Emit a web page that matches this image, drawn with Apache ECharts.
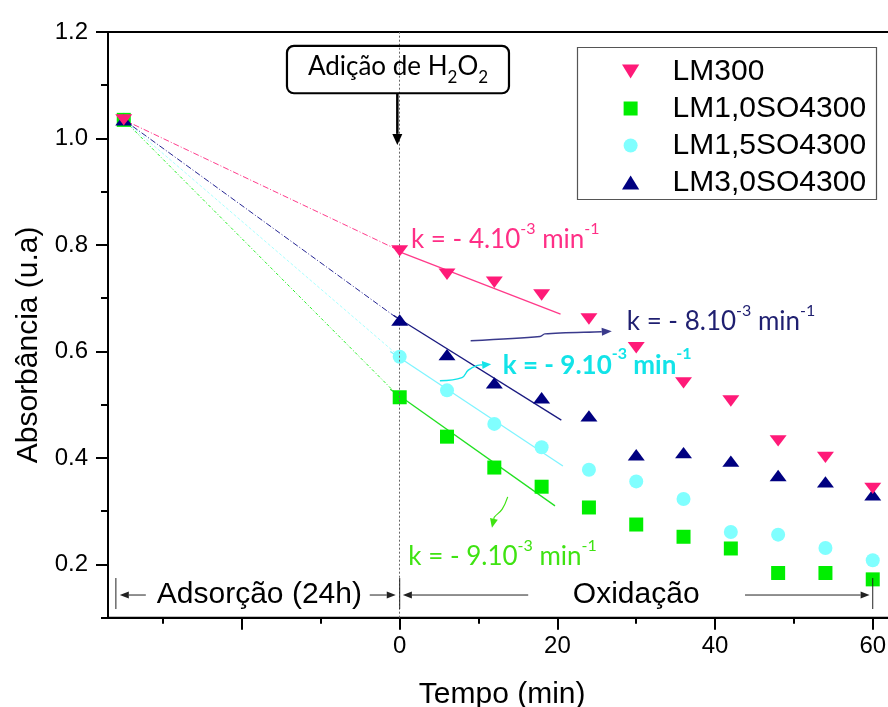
<!DOCTYPE html>
<html>
<head>
<meta charset="utf-8">
<script src="https://cdn.jsdelivr.net/npm/echarts@6/dist/echarts.min.js"></script>
<style>
  html, body { margin: 0; padding: 0; background: #fff; }
  #chart { width: 888px; height: 707px; }
</style>
</head>
<body>
<div id="chart"></div>
<script>
// Sampling times after H2O2 addition (min)
const times = [0, 6, 12, 18, 24, 30, 36, 42, 48, 54, 60];
// Initial absorbance, before the 24 h adsorption stage (placed at t = -35 on the compressed axis)
const startTime = -35;
const startAbs = 1.035;

// Absorbance (u.a) per catalyst
const seriesNames = ['LM300', 'LM1,0SO4300', 'LM1,5SO4300', 'LM3,0SO4300'];
const absLM300 = [0.789, 0.745, 0.730, 0.706, 0.661, 0.607, 0.541, 0.507, 0.432, 0.401, 0.343];
const absLM10 = [0.514, 0.440, 0.382, 0.346, 0.307, 0.275, 0.252, 0.230, 0.184, 0.184, 0.172];
const absLM15 = [0.590, 0.527, 0.464, 0.420, 0.378, 0.356, 0.323, 0.261, 0.256, 0.231, 0.208];
const absLM30 = [0.659, 0.594, 0.541, 0.513, 0.479, 0.406, 0.410, 0.394, 0.367, 0.355, 0.331];

// Linear fits of the first 20 min: [t, A] end points
const fitLM300 = [[-0.5, 0.790], [20.4, 0.670]];
const fitLM10 = [[-1.2, 0.529], [19.7, 0.310]];
const fitLM15 = [[-1.2, 0.600], [20.7, 0.385]];
const fitLM30 = [[-0.8, 0.668], [20.5, 0.471]];

// Rate constants (x10^-3 min^-1)
const rateLM300 = 4;
const rateLM10 = 9;
const rateLM15 = 9;
const rateLM30 = 8;

// Axis ticks
const xMajorTicks = [-20, 0, 20, 40, 60];
const xTickLabels = [0, 20, 40, 60];
const xMinorTicks = [-30, -10, 10, 30, 50];
const yMajorTicks = [0.2, 0.4, 0.6, 0.8, 1.0, 1.2];
const yMinorTicks = [0.1, 0.3, 0.5, 0.7, 0.9, 1.1];

const X_MIN = -37, X_MAX = 63, Y_MIN = 0.1, Y_MAX = 1.2;

const C = {
  pink: '#ff1a78', green: '#00ee00', cyan: '#80ffff', navy: '#000080',
  pinkText: '#ff2f86', greenText: '#3fe312', cyanText: '#12e3e8', navyText: '#1f1f70',
  pinkFit: '#ff3a8a', greenFit: '#22e022', cyanFit: '#7ff4ff', navyFit: '#1a1a80'
};
const SANS = '"Liberation Sans", Arial, sans-serif';
const HUMAN = 'Lato, "Open Sans", sans-serif';

const DOWN_TRI = 'path://M0,0L16,0L8,13Z';
const UP_TRI = 'path://M8,0L16,13L0,13Z';
const SQUARE = 'path://M0,0L10,0L10,10L0,10Z';

function points(vals) {
  return [[startTime, startAbs]].concat(times.map((t, i) => [t, vals[i]]));
}
function lead(vals) {
  return [[startTime, startAbs], [0, vals[0]]];
}

const groups = [
  { name: seriesNames[0], vals: absLM300, fit: fitLM300, color: C.pink, fitColor: C.pinkFit, symbol: DOWN_TRI, size: [17, 14], z: 6, dash: [6, 2, 1, 2] },
  { name: seriesNames[1], vals: absLM10, fit: fitLM10, color: C.green, fitColor: C.greenFit, symbol: SQUARE, size: 14, z: 4, dash: [3, 2, 1, 2] },
  { name: seriesNames[2], vals: absLM15, fit: fitLM15, color: C.cyan, fitColor: C.cyanFit, symbol: 'circle', size: 14, z: 3, dash: [3, 2] },
  { name: seriesNames[3], vals: absLM30, fit: fitLM30, color: C.navy, fitColor: C.navyFit, symbol: UP_TRI, size: [17, 14], z: 5, dash: [6, 2, 1, 2] }
];

const series = [];
groups.forEach(g => {
  series.push({
    type: 'line', data: lead(g.vals), symbol: 'none', silent: true, z: 1,
    lineStyle: { color: g.color === C.cyan ? '#9ff' : g.color, width: 1, type: g.dash, opacity: 0.85 }
  });
  series.push({
    type: 'line', data: g.fit, symbol: 'none', silent: true, z: 2,
    lineStyle: { color: g.fitColor, width: 1.3 }
  });
});
groups.forEach(g => {
  series.push({
    name: g.name, type: 'scatter', data: points(g.vals),
    symbol: g.symbol, symbolSize: g.size, symbolKeepAspect: true, z: g.z,
    itemStyle: { color: g.color, opacity: 1 }
  });
});
// addition of H2O2 marker (t = 0)
series[0].markLine = {
  silent: true, symbol: 'none', label: { show: false },
  lineStyle: { color: '#666', type: [2, 2], width: 1 },
  data: [{ xAxis: 0 }]
};

const chart = echarts.init(document.getElementById('chart'), null, { renderer: 'canvas' });

const option = {
  backgroundColor: '#fff',
  animation: false,
  grid: {
    left: 108, top: 32, right: -8.4, bottom: 89.3, outerBoundsMode: 'none', containLabel: false,
    show: true, borderColor: '#000', borderWidth: 2, backgroundColor: 'transparent'
  },
  legend: {
    data: seriesNames.map(n => ({ name: n })),
    orient: 'vertical', left: 622, top: 55, padding: 0,
    itemWidth: 74, itemHeight: 14, itemGap: 4, symbolKeepAspect: true,
    textStyle: { fontFamily: SANS, fontSize: 30, color: '#000', lineHeight: 33 }
  },
  xAxis: [
    {
      type: 'value', min: X_MIN, max: X_MAX, position: 'bottom',
      name: 'Tempo (min)', nameLocation: 'middle', nameGap: 62,
      nameTextStyle: { fontFamily: SANS, fontSize: 30, color: '#000' },
      axisLine: { onZero: false, lineStyle: { color: '#000', width: 2 } },
      axisTick: { customValues: xMajorTicks, length: 12, lineStyle: { color: '#000', width: 2 } },
      axisLabel: { customValues: xTickLabels, margin: 17, fontFamily: SANS, fontSize: 24, color: '#000' },
      splitLine: { show: false }
    },
    {
      type: 'value', min: X_MIN, max: X_MAX, position: 'bottom',
      axisLine: { show: false, onZero: false },
      axisTick: { customValues: xMinorTicks, length: 6, lineStyle: { color: '#000', width: 2 } },
      axisLabel: { show: false },
      splitLine: { show: false }
    }
  ],
  yAxis: [
    {
      type: 'value', min: Y_MIN, max: Y_MAX, position: 'left',
      name: 'Absorbância (u.a)', nameLocation: 'middle', nameGap: 60, nameRotate: 90,
      nameTextStyle: { fontFamily: SANS, fontSize: 30, color: '#000', padding: [0, 40, 0, 0] },
      axisLine: { onZero: false, lineStyle: { color: '#000', width: 2 } },
      axisTick: { customValues: yMajorTicks, length: 12, lineStyle: { color: '#000', width: 2 } },
      axisLabel: { customValues: yMajorTicks, margin: 20, fontFamily: SANS, fontSize: 24, color: '#000', formatter: v => v.toFixed(1) },
      splitLine: { show: false }
    },
    {
      type: 'value', min: Y_MIN, max: Y_MAX, position: 'left',
      axisLine: { show: false, onZero: false },
      axisTick: { customValues: yMinorTicks, length: 7, lineStyle: { color: '#000', width: 2 } },
      axisLabel: { show: false },
      splitLine: { show: false }
    }
  ],
  series: series
};
chart.setOption(option);

// ---- annotations, placed in data coordinates ----
function P(t, v) { return chart.convertToPixel({ xAxisIndex: 0, yAxisIndex: 0 }, [t, v]); }

function arrow(pts, color, width, headLen, headW, smooth) {
  const n = pts.length;
  const a = pts[n - 2], b = pts[n - 1];
  const ang = Math.atan2(b[1] - a[1], b[0] - a[0]);
  const bx = b[0] - headLen * Math.cos(ang), by = b[1] - headLen * Math.sin(ang);
  const nx = -Math.sin(ang) * headW / 2, ny = Math.cos(ang) * headW / 2;
  return [
    { type: 'polyline', silent: true, z: 50, shape: { points: pts.slice(0, n - 1).concat([[bx, by]]), smooth: smooth || 0 },
      style: { stroke: color, lineWidth: width, fill: null } },
    { type: 'polygon', silent: true, z: 50, shape: { points: [b, [bx + nx, by + ny], [bx - nx, by - ny]] },
      style: { fill: color } }
  ];
}

function rateText(rate) {
  return '{a|k = - ' + rate + '.10}{s|-3}{a| min}{s|-1}';
}
function rateLabel(t, v, rate, color, bold) {
  const p = P(t, v);
  const w = bold ? 'bold' : 'normal';
  return {
    type: 'text', silent: true, z: 60, x: p[0], y: p[1],
    style: {
      text: rateText(rate), align: 'left', verticalAlign: 'middle',
      rich: {
        a: { fontFamily: HUMAN, fontSize: 26, fill: color, fontWeight: w, lineHeight: 32, verticalAlign: 'bottom' },
        s: { fontFamily: HUMAN, fontSize: 16, fill: color, fontWeight: w, lineHeight: 32, verticalAlign: 'top' }
      }
    }
  };
}

const g = [];

// legend frame
g.push({ type: 'rect', silent: true, z: 40, shape: { x: 577.5, y: 47.5, width: 299, height: 152 },
  style: { fill: null, stroke: '#555', lineWidth: 1.2 } });

// "Adição de H2O2" callout
(function () {
  const tl = P(-14.3, 1.174), br = P(13.86, 1.085);
  g.push({ type: 'rect', silent: true, z: 45,
    shape: { x: tl[0], y: tl[1], width: br[0] - tl[0], height: br[1] - tl[1], r: 7 },
    style: { fill: null, stroke: '#000', lineWidth: 2.2 } });
  const c = P((-14.3 + 13.86) / 2, 1.1295);
  g.push({ type: 'text', silent: true, z: 46, x: c[0], y: c[1],
    style: {
      text: '{a|Adição de H}{b|2}{a|O}{b|2}', align: 'center', verticalAlign: 'middle',
      rich: {
        a: { fontFamily: HUMAN, fontSize: 26, fill: '#000', lineHeight: 32, verticalAlign: 'top' },
        b: { fontFamily: HUMAN, fontSize: 17, fill: '#000', lineHeight: 32, verticalAlign: 'bottom' }
      }
    } });
  const a0 = P(-0.3, 1.085), a1 = P(-0.3, 0.988);
  g.push(...arrow([a0, a1], '#000', 2.5, 11, 10));
})();

// stage markers along the bottom
(function () {
  const yMid = 0.1426, yLo = 0.1163, yHi = 0.1745;
  const col = '#222';
  [-36.0, 0, 60].forEach(t => {
    g.push({ type: 'line', silent: true, z: 45, shape: { x1: P(t, yLo)[0], y1: P(t, yLo)[1], x2: P(t, yHi)[0], y2: P(t, yHi)[1] },
      style: { stroke: col, lineWidth: 1 } });
  });
  g.push(...arrow([P(-32.2, yMid), P(-35.5, yMid)], col, 1, 9, 7));
  g.push(...arrow([P(-3.8, yMid), P(-0.5, yMid)], col, 1, 9, 7));
  g.push(...arrow([P(16.3, yMid), P(0.4, yMid)], col, 1, 9, 7));
  g.push(...arrow([P(43.8, yMid), P(59.6, yMid)], col, 1, 9, 7));
  const t1 = P(-17.8, yMid), t2 = P(30.0, yMid);
  g.push({ type: 'text', silent: true, z: 46, x: t1[0], y: t1[1],
    style: { text: 'Adsorção (24h)', align: 'center', verticalAlign: 'middle', fontFamily: SANS, fontSize: 30, fill: '#000' } });
  g.push({ type: 'text', silent: true, z: 46, x: t2[0], y: t2[1],
    style: { text: 'Oxidação', align: 'center', verticalAlign: 'middle', fontFamily: SANS, fontSize: 30, fill: '#000' } });
})();

// rate constant labels and their pointers
g.push(rateLabel(1.43, 0.815, rateLM300, C.pinkText, false));
g.push(rateLabel(28.8, 0.662, rateLM30, C.navyText, false));
g.push(rateLabel(13.06, 0.580, rateLM15, C.cyanText, true));
g.push(rateLabel(1.09, 0.2196, rateLM10, C.greenText, false));

g.push(...arrow([P(9.0, 0.620), P(17.8, 0.628), P(18.4, 0.633), P(25.6, 0.637), P(26.9, 0.638)], '#3a3a8c', 1.4, 10, 8, 0.3));
g.push(...arrow([P(5.1, 0.545), P(7.9, 0.551), P(8.7, 0.565), P(9.9, 0.574), P(11.6, 0.576)], C.cyanText, 1.4, 9, 8, 0.4));
g.push(...arrow([P(13.7, 0.327), P(13.0, 0.304), P(12.0, 0.289), P(11.7, 0.269)], C.greenText, 1.2, 9, 8, 0.4));

chart.setOption({ graphic: g });
</script>
</body>
</html>
